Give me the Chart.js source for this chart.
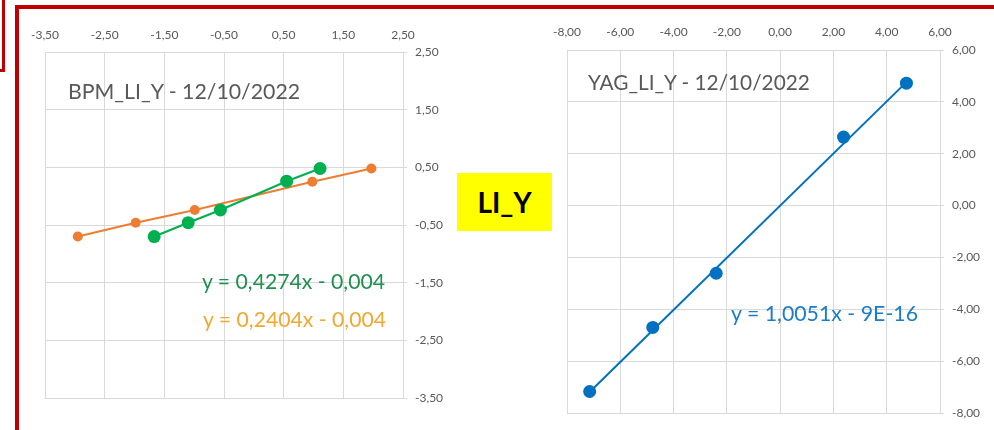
<!DOCTYPE html>
<html>
<head>
<meta charset="utf-8">
<script src="https://cdn.jsdelivr.net/npm/chart.js@4/dist/chart.umd.min.js"></script>
<style>
  html, body { margin: 0; padding: 0; background: #fff; }
  body { width: 994px; height: 430px; position: relative; overflow: hidden; font-family: Lato, sans-serif; }
  canvas { position: absolute; top: 0; }
  .frame { position: absolute; border: 4px solid #c00000; box-sizing: border-box; }
  .note { position: absolute; white-space: nowrap; line-height: 1; }
  .tag {
    position: absolute; left: 457px; top: 173px; width: 95px; height: 58px;
    background: #ffff00; text-align: center; font-weight: bold; font-size: 28px;
    line-height: 1; padding-top: 15px; box-sizing: border-box; color: #000; z-index: 2;
  }
</style>
</head>
<body>

<div class="frame" style="left:-10px; top:-10px; width:15px; height:82px; border-width:3px;"></div>
<div class="frame" style="left:15px; top:5px; width:1100px; height:500px;"></div>

<canvas id="bpm" width="450" height="430" style="left:0"></canvas>
<canvas id="yag" width="454" height="430" style="left:540px"></canvas>

<div class="tag">LI_Y</div>

<div class="note" style="left:68px; top:81px; font-size:21.3px; color:#595959;">BPM_LI_Y - 12/10/2022</div>
<div class="note" style="left:202px; top:271px; font-size:21.2px; color:#1f8f4e;">y = 0,4274x - 0,004</div>
<div class="note" style="left:203px; top:309px; font-size:21.2px; color:#f0a830;">y = 0,2404x - 0,004</div>
<div class="note" style="left:588px; top:72px; font-size:20.8px; color:#595959;">YAG_LI_Y - 12/10/2022</div>
<div class="note" style="left:731px; top:303px; font-size:21.3px; color:#1b7cc8;">y = 1,0051x - 9E-16</div>

<script>
// ── data ──
const BPM_TICKS = [-3.5, -2.5, -1.5, -0.5, 0.5, 1.5, 2.5];
const YAG_TICKS = [-8, -6, -4, -2, 0, 2, 4, 6];

const BPM_GREEN_X  = [-1.67, -1.10, -0.56, 0.55, 1.11];
const BPM_GREEN_Y  = [-0.70, -0.46, -0.24, 0.26, 0.48];
const BPM_ORANGE_X = [-2.95, -1.98, -0.99, 0.98, 1.97];
const BPM_ORANGE_Y = [-0.70, -0.46, -0.24, 0.25, 0.48];

const YAG_X = [-7.15, -4.78, -2.40, 2.38, 4.74];
const YAG_Y = [-7.17, -4.70, -2.61, 2.64, 4.72];
// trendline ends as drawn
const YAG_TREND_X = [-7.15, 4.74];
const YAG_TREND_Y = [-7.19, 4.76];

const GRID = '#d9d9d9';
const TICK_FONT = { family: 'Lato', size: 12 };

const pts = (xs, ys) => xs.map((x, i) => ({ x, y: ys[i] }));
const fmt = v => v.toFixed(2).replace('.', ',');

function axes(ticks, xHeight, xPad, yWidth) {
  const fixTicks = s => { s.ticks = ticks.map(v => ({ value: v })); };
  return {
    x: {
      type: 'linear', position: 'top',
      min: ticks[0], max: ticks[ticks.length - 1],
      afterBuildTicks: fixTicks,
      afterFit: s => { s.height = xHeight; },
      grid: { color: GRID, drawTicks: false },
      border: { color: GRID },
      ticks: { color: '#595959', font: TICK_FONT, padding: xPad, callback: fmt, maxRotation: 0 },
    },
    y: {
      type: 'linear', position: 'right',
      min: ticks[0], max: ticks[ticks.length - 1],
      afterBuildTicks: fixTicks,
      afterFit: s => { s.width = yWidth; },
      grid: { color: GRID, tickLength: 4 },
      border: { color: GRID },
      ticks: { color: '#595959', font: TICK_FONT, padding: 8, callback: fmt },
    },
  };
}

const baseOpts = {
  responsive: false,
  animation: false,
  plugins: { legend: { display: false }, tooltip: { enabled: false } },
};

new Chart(document.getElementById('bpm'), {
  type: 'scatter',
  data: {
    datasets: [
      {
        data: pts(BPM_GREEN_X, BPM_GREEN_Y),
        showLine: true, borderColor: '#00b050', backgroundColor: '#00b050',
        borderWidth: 2.2, pointRadius: 6.5, pointBorderWidth: 0,
      },
      {
        data: pts(BPM_ORANGE_X, BPM_ORANGE_Y),
        showLine: true, borderColor: '#ed7d31', backgroundColor: '#ed7d31',
        borderWidth: 2, pointRadius: 5, pointBorderWidth: 0,
      },
    ],
  },
  options: {
    ...baseOpts,
    layout: { padding: { left: 45, top: 0, right: 0, bottom: 32 } },
    scales: axes(BPM_TICKS, 52, 10, 47),
  },
});

new Chart(document.getElementById('yag'), {
  type: 'scatter',
  data: {
    datasets: [
      {
        data: pts(YAG_X, YAG_Y),
        borderColor: '#0070c0', backgroundColor: '#0070c0',
        pointRadius: 6.5, pointBorderWidth: 0,
      },
      {
        data: pts(YAG_TREND_X, YAG_TREND_Y),
        showLine: true, borderColor: '#0070c0', borderWidth: 2, pointRadius: 0,
      },
    ],
  },
  options: {
    ...baseOpts,
    layout: { padding: { left: 27, top: 0, right: 0, bottom: 17 } },
    scales: axes(YAG_TICKS, 50, 11, 54),
  },
});
</script>
</body>
</html>
